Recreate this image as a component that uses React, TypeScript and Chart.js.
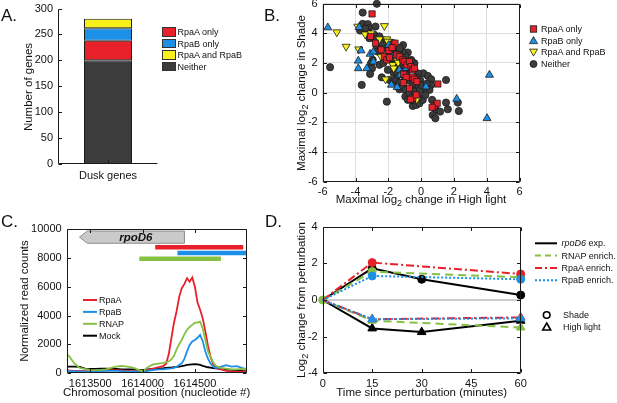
import React, { useEffect, useRef } from "react";
import { Chart, registerables } from "chart.js";

Chart.register(...registerables);

const W = 617;
const H = 403;
const FONT = "'Liberation Sans', Arial, Helvetica, sans-serif";
Chart.defaults.font.family = FONT;
Chart.defaults.font.size = 11;
Chart.defaults.color = "#111";

const RED = "#e8202a";
const BLUE = "#1c90e6";
const YELLOW = "#f8f01a";
const DARK = "#3c3c3c";
const GREEN = "#86c043";

// ---------------- Panel A: stacked bar ----------------
const barCategories = ["Dusk genes"];
const neitherCounts = [200];
const rpaAOnlyCounts = [38];
const rpaBOnlyCounts = [24];
const bothCounts = [18];
const barYTicks = [0, 50, 100, 150, 200, 250, 300];
const barLegendNames = ["RpaA only", "RpaB only", "RpaA and RpaB", "Neither"];

// ---------------- Panel B: scatter ----------------
const scatterTicks = [-6, -4, -2, 0, 2, 4, 6];
const scatterLegendNames = ["RpaA only", "RpaB only", "RpaA and RpaB", "Neither"];
const rpaAOnlyPoints = [
  [-2.99, 5.3], [-3.09, 3.78], [-2.78, 3.33], [-2.44, 2.88], [-2.24, 2.43], [-2.09, 2.2],
  [-1.93, 2.36], [-1.59, 3.33], [-1.48, 2.54], [-1.32, 2.43], [-1.12, 2.2], [-1.02, 2.09],
  [-0.87, 1.87], [-0.71, 2.09], [-0.61, 1.75], [-0.51, 1.53], [-0.41, 1.64], [-1.06, 1.24],
  [-0.91, 1.03], [-0.51, 1.03], [-0.41, 0.9], [-0.26, 0.74], [-1.08, 0.67], [-0.71, 0.29],
  [-0.51, -0.38], [-0.65, -0.45], [-0.3, -0.16], [1.02, 0.58], [0.81, -0.9], [0.98, -0.72],
  [0.67, -0.99], [-1.97, 2.83], [-1.77, 3.03],
];
const rpaBOnlyPoints = [
  [-5.69, 4.38], [-3.78, 4.4], [-3.83, 2.14], [-3.66, 2.83], [-3.83, 1.63], [-3.31, 1.63],
  [-3.11, 2.6], [-2.91, 2.75], [-2.91, 2.08], [-1.97, 3.2], [-1.79, 2.47], [-1.32, 1.53],
  [-1.26, 1.19], [-0.91, 1.64], [-1.81, 0.52], [-1.46, 0.36], [0.3, 0.4], [2.17, -0.43],
  [4.17, 1.19], [4.02, -1.73],
];
const bothPoints = [
  [-5.14, 4.07], [-4.57, 3.1], [-3.86, 4.45], [-3.8, 2.92], [-3.41, 3.93], [-2.24, 4.49],
  [-2.54, 3.6], [-2.09, 3.6], [-2.03, 3.44], [-2.44, 2.43], [-2.17, 0.9], [-1.48, 2.2],
  [-1.73, 1.87], [-1.4, 2.02], [-1.67, 1.64], [-0.91, 0.97], [-0.26, -0.45], [-3.05, 4.0],
];
const neitherPoints = [
  [-2.7, 5.98], [-3.56, 5.39], [-3.56, 4.63], [-3.25, 4.61], [-3.72, 4.18], [-3.19, 4.34],
  [-2.78, 4.45], [-3.25, 4.04], [-2.85, 3.89], [-2.54, 3.78], [-2.34, 3.55], [-2.03, 3.15],
  [-1.73, 2.88], [-3.15, 3.66], [-2.7, 3.1], [-2.95, 2.2], [-3.05, 1.98], [-2.99, 1.64],
  [-3.11, 1.26], [-5.55, 1.71], [-3.62, 0.52], [-2.4, 1.03], [-2.09, -0.61], [-1.93, 0.85],
  [-1.69, 0.74], [-1.52, 0.9], [-1.32, 0.67], [-1.32, 0.22], [-1.12, 0.45], [-0.96, 0.18],
  [-0.96, -0.27], [-0.81, -0.49], [-0.71, -0.04], [-0.51, 0.29], [-0.41, 0.07], [-0.3, -0.27],
  [-0.51, -0.9], [-0.3, -0.83], [-0.1, -0.72], [0.1, -0.49], [0.2, 0.18], [0.14, 1.3],
  [0.41, 1.12], [0.61, 0.9], [0.61, 0.52], [0.51, 0.18], [0.26, -0.16], [0.67, -0.49],
  [0.91, -1.17], [0.71, -1.51], [0.87, -1.73], [1.16, -1.28], [1.52, -0.67], [1.63, -1.12],
  [1.52, 0.85], [2.24, -0.67], [2.3, -1.24], [-0.81, 2.7], [-0.96, 2.47], [-1.12, 2.76],
  [-1.32, 2.88], [-0.71, 1.57], [-0.41, 1.98], [-0.2, 1.3], [-0.06, 0.85], [-0.2, 0.52],
  [-0.06, 0.18], [-1.67, 1.3], [-1.42, 1.19], [-2.24, 2.99], [-1.93, 2.65], [-2.17, 2.31],
  [-2.64, 2.76], [-2.54, 1.87], [-2.03, 1.53], [-1.32, 2.09], [-1.22, 1.75], [-1.8, 2.3],
  [-1.6, 1.9], [-1.4, 1.6], [-1.1, 1.4], [-0.9, 1.2], [-0.7, 0.8], [-0.5, 0.6], [-1.0, 0.9],
  [-1.5, 1.4], [-0.3, 1.0], [-0.6, 2.2], [-2.3, 2.0], [-1.1, 3.2], [-0.9, 2.0], [-0.55, -0.5],
  [-0.15, -0.3], [0.05, 0.5], [0.35, 0.6], [-2.8, 3.6], [-3.4, 4.3], [-2.5, 3.4], [-1.75, 3.35],
  [-1.3, 3.0],
];

// ---------------- Panel C: read counts ----------------
const positions = [
  1613275, 1613300, 1613350, 1613400, 1613450, 1613500, 1613550, 1613600, 1613650, 1613700,
  1613750, 1613800, 1613850, 1613900, 1613950, 1614000, 1614050, 1614100, 1614150, 1614200,
  1614225, 1614250, 1614275, 1614300, 1614325, 1614350, 1614375, 1614400, 1614425, 1614450,
  1614475, 1614500, 1614525, 1614550, 1614575, 1614600, 1614625, 1614650, 1614675, 1614700,
  1614750, 1614800, 1614850, 1614900, 1614950, 1615000,
];
const rpaAReads = [
  200, 180, 150, 150, 130, 130, 150, 150, 180, 200, 200, 180, 150, 130, 120, 100, 200, 300, 400, 500,
  650, 1300, 2400, 3500, 4300, 5300, 5900, 6200, 6600, 6350, 6650, 6000, 4900, 4400, 3800, 2900, 1900, 1100, 600, 400,
  250, 150, 120, 100, 100, 100,
];
const rpaBReads = [
  150, 150, 120, 120, 100, 100, 120, 150, 150, 150, 150, 130, 100, 100, 80, 60, 150, 200, 250, 250,
  280, 300, 320, 350, 430, 550, 670, 1000, 1500, 1950, 2200, 2300, 2450, 2650, 2200, 1500, 1000, 650, 450, 350,
  450, 550, 450, 480, 350, 250,
];
const rnapReads = [
  1300, 1150, 650, 350, 280, 220, 200, 220, 250, 350, 450, 500, 450, 400, 250, 100, 400, 600, 650, 700,
  750, 800, 950, 1200, 1650, 2000, 2300, 2700, 3000, 3200, 3350, 3500, 3500, 3570, 3100, 2300, 1500, 1100, 750, 500,
  350, 300, 250, 250, 280, 300,
];
const mockReads = [
  450, 450, 450, 420, 300, 280, 280, 300, 300, 280, 280, 250, 250, 250, 220, 200, 250, 280, 300, 330,
  350, 370, 380, 400, 420, 450, 480, 520, 560, 580, 600, 620, 600, 560, 500, 450, 400, 370, 340, 320,
  280, 250, 220, 200, 150, 100,
];
const readNames = ["RpaA", "RpaB", "RNAP", "Mock"];
const cXTicks = [1613500, 1614000, 1614500];
const cYTicks = [0, 2000, 4000, 6000, 8000, 10000];
const cXRange = [1613275, 1614995];
const geneName = "rpoD6";
const geneSpan = [1613397, 1614400];
const geneHead = 75;
const geneLevels = [9030, 9880];
const peakStarts = [1614121, 1614333, 1613969];
const peakEnds = [1614962, 1615100, 1614749];
const peakLevels = [8750, 8350, 7950];

// ---------------- Panel D: time course ----------------
const times = [0, 15, 30, 60];
const rpoD6Shade = [0, 1.73, 1.13, 0.27];
const rpoD6High = [0, -1.55, -1.75, -1.13];
const enrichTimes = [0, 15, 60];
const rnapShade = [0, 1.55, 1.24];
const rnapHigh = [0, -1.13, -1.5];
const rpaAShade = [0, 2.04, 1.42];
const rpaAHigh = [0, -1.05, -0.95];
const rpaBShade = [0, 1.31, 1.13];
const rpaBHigh = [0, -1.05, -1.0];
const dXTicks = [0, 15, 30, 45, 60];
const dYTicks = [-4, -2, 0, 2, 4];
const dLegendNames = ["exp.", "RNAP enrich.", "RpaA enrich.", "RpaB enrich."];
const conditionNames = ["Shade", "High light"];

// ---------------- helpers ----------------
function areaLayout(L: number, T: number, R: number, B: number, yW: number, xH: number) {
  return {
    autoPadding: false,
    padding: { left: L - yW, top: T, right: W - R, bottom: H - B - xH },
  };
}

function xAxis(ticks: number[] | null, xH: number, extra: any = {}) {
  return {
    grid: { display: false, drawTicks: false },
    border: { display: false },
    ticks: { padding: 4, font: { size: 11 }, color: "#111", maxRotation: 0, autoSkip: false, callback: (v: any, i: number, arr: any) => (ticks ? String(arr[i].value) : undefined) },
    afterBuildTicks: (s: any) => { if (ticks) s.ticks = ticks.map((v) => ({ value: v })); },
    afterFit: (s: any) => { s.height = xH; s.paddingLeft = 0; s.paddingRight = 0; },
    ...extra,
  };
}

function yAxis(ticks: number[], yW: number, extra: any = {}) {
  return {
    grid: { display: false, drawTicks: false },
    border: { display: false },
    ticks: { padding: 5, font: { size: 11 }, color: "#111", autoSkip: false, callback: (v: any, i: number, arr: any) => String(arr[i].value) },
    afterBuildTicks: (s: any) => { s.ticks = ticks.map((v) => ({ value: v })); },
    afterFit: (s: any) => { s.width = yW; s.paddingTop = 0; s.paddingBottom = 0; },
    ...extra,
  };
}

function framePlugin(full: boolean, len = 3.5) {
  return {
    id: "frame",
    afterDatasetsDraw(chart: any) {
      const { ctx, chartArea: a, scales } = chart;
      const l = Math.round(a.left) + 0.5, r = Math.round(a.right) - 0.5;
      const t = Math.round(a.top) + 0.5, b = Math.round(a.bottom) - 0.5;
      ctx.save();
      ctx.strokeStyle = "#1a1a1a";
      ctx.lineWidth = 1;
      ctx.beginPath();
      if (full) {
        ctx.rect(l, t, r - l, b - t);
      } else {
        ctx.moveTo(l, t); ctx.lineTo(l, b); ctx.lineTo(r, b);
      }
      const xs = scales.x, ys = scales.y;
      xs.ticks.forEach((_: any, i: number) => {
        const x = Math.round(xs.getPixelForTick(i)) + 0.5;
        ctx.moveTo(x, b); ctx.lineTo(x, b - len);
        if (full) { ctx.moveTo(x, t); ctx.lineTo(x, t + len); }
      });
      ys.ticks.forEach((_: any, i: number) => {
        const y = Math.round(ys.getPixelForTick(i)) + 0.5;
        ctx.moveTo(l, y); ctx.lineTo(l + len, y);
        if (full) { ctx.moveTo(r, y); ctx.lineTo(r - len, y); }
      });
      ctx.stroke();
      ctx.restore();
    },
  };
}

const genePlugin = {
  id: "gene",
  afterDatasetsDraw(chart: any) {
    const { ctx, chartArea: a, scales } = chart;
    const x = scales.x, y = scales.y;
    const peakColors = [RED, BLUE, GREEN];
    ctx.save();
    ctx.beginPath();
    ctx.rect(a.left, a.top, a.right - a.left, a.bottom - a.top);
    ctx.clip();
    peakStarts.forEach((s, i) => {
      const py = y.getPixelForValue(peakLevels[i]);
      ctx.strokeStyle = peakColors[i];
      ctx.lineWidth = 4.5;
      ctx.lineCap = "butt";
      ctx.beginPath();
      ctx.moveTo(x.getPixelForValue(s), py);
      ctx.lineTo(x.getPixelForValue(peakEnds[i]), py);
      ctx.stroke();
    });
    const tip = x.getPixelForValue(geneSpan[0]);
    const hb = x.getPixelForValue(geneSpan[0] + geneHead);
    const end = x.getPixelForValue(geneSpan[1]);
    const top = y.getPixelForValue(geneLevels[1]);
    const bot = y.getPixelForValue(geneLevels[0]);
    const mid = (top + bot) / 2;
    ctx.beginPath();
    ctx.moveTo(tip, mid);
    ctx.lineTo(hb, top);
    ctx.lineTo(end, top);
    ctx.lineTo(end, bot);
    ctx.lineTo(hb, bot);
    ctx.closePath();
    ctx.fillStyle = "#cacaca";
    ctx.fill();
    ctx.strokeStyle = "#8c8c8c";
    ctx.lineWidth = 1;
    ctx.stroke();
    ctx.fillStyle = "#111";
    ctx.font = `italic bold 11.5px ${FONT}`;
    ctx.textAlign = "center";
    ctx.textBaseline = "middle";
    ctx.fillText(geneName, (hb + end) / 2, mid + 0.5);
    ctx.restore();
  },
};

const toXY = (pts: number[][]) => pts.map(([x, y]) => ({ x, y }));
const zipXY = (xs: number[], ys: number[]) => xs.map((x, i) => ({ x, y: ys[i] }));

function configA(): any {
  const ds = (label: string, data: number[], color: string) => ({
    label, data, backgroundColor: color, borderColor: "#1a1a1a", borderWidth: 1,
    borderSkipped: false, barPercentage: 0.48, categoryPercentage: 1,
  });
  return {
    type: "bar",
    data: {
      labels: barCategories,
      datasets: [
        ds("Neither", neitherCounts, DARK),
        ds("RpaA only", rpaAOnlyCounts, RED),
        ds("RpaB only", rpaBOnlyCounts, BLUE),
        ds("RpaA and RpaB", bothCounts, YELLOW),
      ],
    },
    options: {
      responsive: false,
      animation: false,
      layout: areaLayout(58, 8.5, 158, 164, 30, 20),
      plugins: { legend: { display: false }, tooltip: { enabled: false } },
      scales: {
        x: { ...xAxis(null, 20), stacked: true, ticks: { padding: 5, font: { size: 11 }, color: "#111" } },
        y: { ...yAxis(barYTicks, 30), stacked: true, min: 0, max: 300 },
      },
    },
    plugins: [framePlugin(false)],
  };
}

function configB(): any {
  const common = { pointBorderColor: "#1a1a1a", pointBorderWidth: 0.8, showLine: false, clip: false };
  const grid = { display: true, drawTicks: false, color: "#dedede", lineWidth: 1 };
  return {
    type: "scatter",
    data: {
      datasets: [
        { label: "RpaA only", data: toXY(rpaAOnlyPoints), pointStyle: "rect", pointRadius: 4.4, pointBackgroundColor: RED, ...common },
        { label: "RpaB only", data: toXY(rpaBOnlyPoints), pointStyle: "triangle", pointRadius: 4.6, pointBackgroundColor: BLUE, ...common },
        { label: "RpaA and RpaB", data: toXY(bothPoints), pointStyle: "triangle", pointRotation: 180, pointRadius: 4.6, pointBackgroundColor: YELLOW, ...common },
        { label: "Neither", data: toXY(neitherPoints), pointStyle: "circle", pointRadius: 3.6, pointBackgroundColor: DARK, ...common },
      ],
    },
    options: {
      responsive: false,
      animation: false,
      layout: areaLayout(322.7, 3.5, 519.5, 181.7, 25, 20),
      plugins: { legend: { display: false }, tooltip: { enabled: false } },
      scales: {
        x: { ...xAxis(scatterTicks, 20), type: "linear", min: -6, max: 6, grid },
        y: { ...yAxis(scatterTicks, 25), min: -6, max: 6, grid },
      },
    },
    plugins: [framePlugin(true)],
  };
}

function configC(): any {
  const line = (label: string, vals: number[], color: string) => ({
    label, data: zipXY(positions, vals), showLine: true, borderColor: color, borderWidth: 1.8,
    pointRadius: 0, tension: 0, fill: false,
  });
  return {
    type: "scatter",
    data: {
      datasets: [
        line("RNAP", rnapReads, GREEN),
        line("RpaB", rpaBReads, BLUE),
        line("RpaA", rpaAReads, RED),
        line("Mock", mockReads, "#000"),
      ],
    },
    options: {
      responsive: false,
      animation: false,
      layout: areaLayout(66.7, 229.3, 246.7, 373, 40, 20),
      plugins: { legend: { display: false }, tooltip: { enabled: false } },
      scales: {
        x: { ...xAxis(cXTicks, 20), type: "linear", min: cXRange[0], max: cXRange[1] },
        y: { ...yAxis(cYTicks, 40), min: 0, max: 10000 },
      },
    },
    plugins: [genePlugin, framePlugin(true)],
  };
}

function configD(): any {
  const series = (label: string, xs: number[], ys: number[], color: string, dash: number[], style: string, radii: number[]) => ({
    label, data: zipXY(xs, ys), showLine: true, borderColor: color, borderWidth: 2, borderDash: dash,
    pointStyle: style, pointRadius: radii, pointBackgroundColor: color, pointBorderColor: color,
    pointBorderWidth: 1, tension: 0, clip: false,
  });
  const c = 4, tr = 5;
  return {
    type: "scatter",
    data: {
      datasets: [
        series("RpaB enrich. shade", enrichTimes, rpaBShade, BLUE, [2, 2], "circle", [0, c, c]),
        series("RpaB enrich. high", enrichTimes, rpaBHigh, BLUE, [2, 2], "triangle", [0, tr, tr]),
        series("RpaA enrich. shade", enrichTimes, rpaAShade, RED, [8, 3, 2, 3], "circle", [0, c, c]),
        series("RpaA enrich. high", enrichTimes, rpaAHigh, RED, [8, 3, 2, 3], "triangle", [0, tr, tr]),
        series("RNAP enrich. shade", enrichTimes, rnapShade, GREEN, [8, 5], "circle", [c, c, c]),
        series("RNAP enrich. high", enrichTimes, rnapHigh, GREEN, [8, 5], "triangle", [0, tr, tr]),
        series("rpoD6 exp. shade", times, rpoD6Shade, "#000", [], "circle", [0, c, c, c]),
        series("rpoD6 exp. high", times, rpoD6High, "#000", [], "triangle", [0, tr, tr, tr]),
        {
          label: "zero", data: zipXY([dXTicks[0], dXTicks[dXTicks.length - 1]], [0, 0]), showLine: true,
          borderColor: "#bdbdbd", borderWidth: 1.5, pointRadius: 0,
        },
      ],
    },
    options: {
      responsive: false,
      animation: false,
      layout: areaLayout(322.7, 226.7, 520.7, 373.3, 25, 20),
      plugins: { legend: { display: false }, tooltip: { enabled: false } },
      scales: {
        x: { ...xAxis(dXTicks, 20), type: "linear", min: 0, max: 60 },
        y: { ...yAxis(dYTicks, 25), min: -4, max: 4 },
      },
    },
    plugins: [framePlugin(true)],
  };
}

function Txt(props: any) {
  const { x, y, size = 11.5, rot = false, left = false, style = {}, children } = props;
  const tr = (left ? "translate(0,-50%)" : "translate(-50%,-50%)") + (rot ? " rotate(-90deg)" : "");
  return (
    <div
      style={{
        position: "absolute", left: x, top: y, transform: tr, fontSize: size, fontFamily: FONT,
        whiteSpace: "nowrap", lineHeight: 1, color: "#111", ...style,
      }}
    >
      {children}
    </div>
  );
}

const Sub = () => <sub style={{ fontSize: "0.78em", verticalAlign: "-0.3em", lineHeight: 0 }}>2</sub>;

export default function App() {
  const aRef = useRef<HTMLCanvasElement>(null);
  const bRef = useRef<HTMLCanvasElement>(null);
  const cRef = useRef<HTMLCanvasElement>(null);
  const dRef = useRef<HTMLCanvasElement>(null);

  useEffect(() => {
    const charts = [
      new Chart(aRef.current as any, configA()),
      new Chart(bRef.current as any, configB()),
      new Chart(cRef.current as any, configC()),
      new Chart(dRef.current as any, configD()),
    ];
    return () => charts.forEach((ch) => ch.destroy());
  }, []);

  const canvasStyle: any = { position: "absolute", left: 0, top: 0, width: W, height: H };
  const barColors = [RED, BLUE, YELLOW, DARK];
  const readColors = [RED, BLUE, GREEN, "#000"];
  const dColors = ["#000", GREEN, RED, BLUE];
  const dDash = ["", "6 4", "7 3 2 3", "2 2"];
  const LG = 9;

  return (
    <div style={{ position: "fixed", left: 0, top: 0, width: W, height: H, background: "#fff", overflow: "hidden" }}>
      <canvas ref={aRef} width={W} height={H} style={canvasStyle} />
      <canvas ref={bRef} width={W} height={H} style={canvasStyle} />
      <canvas ref={cRef} width={W} height={H} style={canvasStyle} />
      <canvas ref={dRef} width={W} height={H} style={canvasStyle} />

      {/* panel letters */}
      <Txt x={9} y={14.5} size={17}>A.</Txt>
      <Txt x={272} y={14.5} size={17}>B.</Txt>
      <Txt x={9.5} y={221} size={17}>C.</Txt>
      <Txt x={273.5} y={221} size={17}>D.</Txt>

      {/* axis titles */}
      <Txt x={29} y={87} rot>Number of genes</Txt>
      <Txt x={302} y={92.5} rot>Maximal log<Sub /> change in Shade</Txt>
      <Txt x={421} y={200} >Maximal log<Sub /> change in High light</Txt>
      <Txt x={25} y={301} rot>Normalized read counts</Txt>
      <Txt x={156.7} y={393} >Chromosomal position (nucleotide #)</Txt>
      <Txt x={302} y={300} rot>Log<Sub /> change from perturbation</Txt>
      <Txt x={421.7} y={393} >Time since perturbation (minutes)</Txt>

      {/* panel A legend */}
      {barLegendNames.map((n, i) => (
        <React.Fragment key={"a" + n}>
          <div style={{ position: "absolute", left: 162.3, top: 27.3 + i * 11.5, width: 13.4, height: 9.4, background: barColors[i], border: "1px solid #333", boxSizing: "border-box" }} />
          <Txt x={177.5} y={32 + i * 11.5} size={LG} left>{n}</Txt>
        </React.Fragment>
      ))}

      {/* legend glyphs */}
      <svg width={W} height={H} style={{ position: "absolute", left: 0, top: 0 }}>
        <rect x={530.3} y={25.8} width={6.4} height={6.4} fill={RED} stroke="#1a1a1a" strokeWidth={0.8} />
        <polygon points="533.5,36.6 537.5,43.6 529.5,43.6" fill={BLUE} stroke="#1a1a1a" strokeWidth={0.8} />
        <polygon points="529.5,49.1 537.5,49.1 533.5,56.1" fill={YELLOW} stroke="#1a1a1a" strokeWidth={0.8} />
        <circle cx={533.5} cy={64} r={3.5} fill={DARK} stroke="#1a1a1a" strokeWidth={0.8} />
        {readNames.map((n, i) => (
          <line key={"cl" + n} x1={83} x2={97} y1={300 + i * 11.9} y2={300 + i * 11.9} stroke={readColors[i]} strokeWidth={2} />
        ))}
        {dLegendNames.map((n, i) => (
          <line key={"dl" + n} x1={535} x2={557} y1={243.3 + i * 12.3} y2={243.3 + i * 12.3} stroke={dColors[i]} strokeWidth={2} strokeDasharray={dDash[i] || undefined} />
        ))}
        <circle cx={546.7} cy={315} r={3.3} fill="none" stroke="#000" strokeWidth={1.6} />
        <polygon points="546.7,323 550.7,330 542.7,330" fill="none" stroke="#000" strokeWidth={1.6} />
      </svg>

      {scatterLegendNames.map((n, i) => (
        <Txt key={"b" + n} x={541} y={29 + i * 11.67} size={LG} left>{n}</Txt>
      ))}
      {readNames.map((n, i) => (
        <Txt key={"c" + n} x={99} y={300 + i * 11.9} size={LG} left>{n}</Txt>
      ))}
      {dLegendNames.map((n, i) => (
        <Txt key={"d" + n} x={561.5} y={243.3 + i * 12.3} size={LG} left>
          {i === 0 ? <><i>rpoD6</i> {n}</> : n}
        </Txt>
      ))}
      {conditionNames.map((n, i) => (
        <Txt key={"e" + n} x={563} y={315 + i * 12.3} size={LG} left>{n}</Txt>
      ))}
    </div>
  );
}
